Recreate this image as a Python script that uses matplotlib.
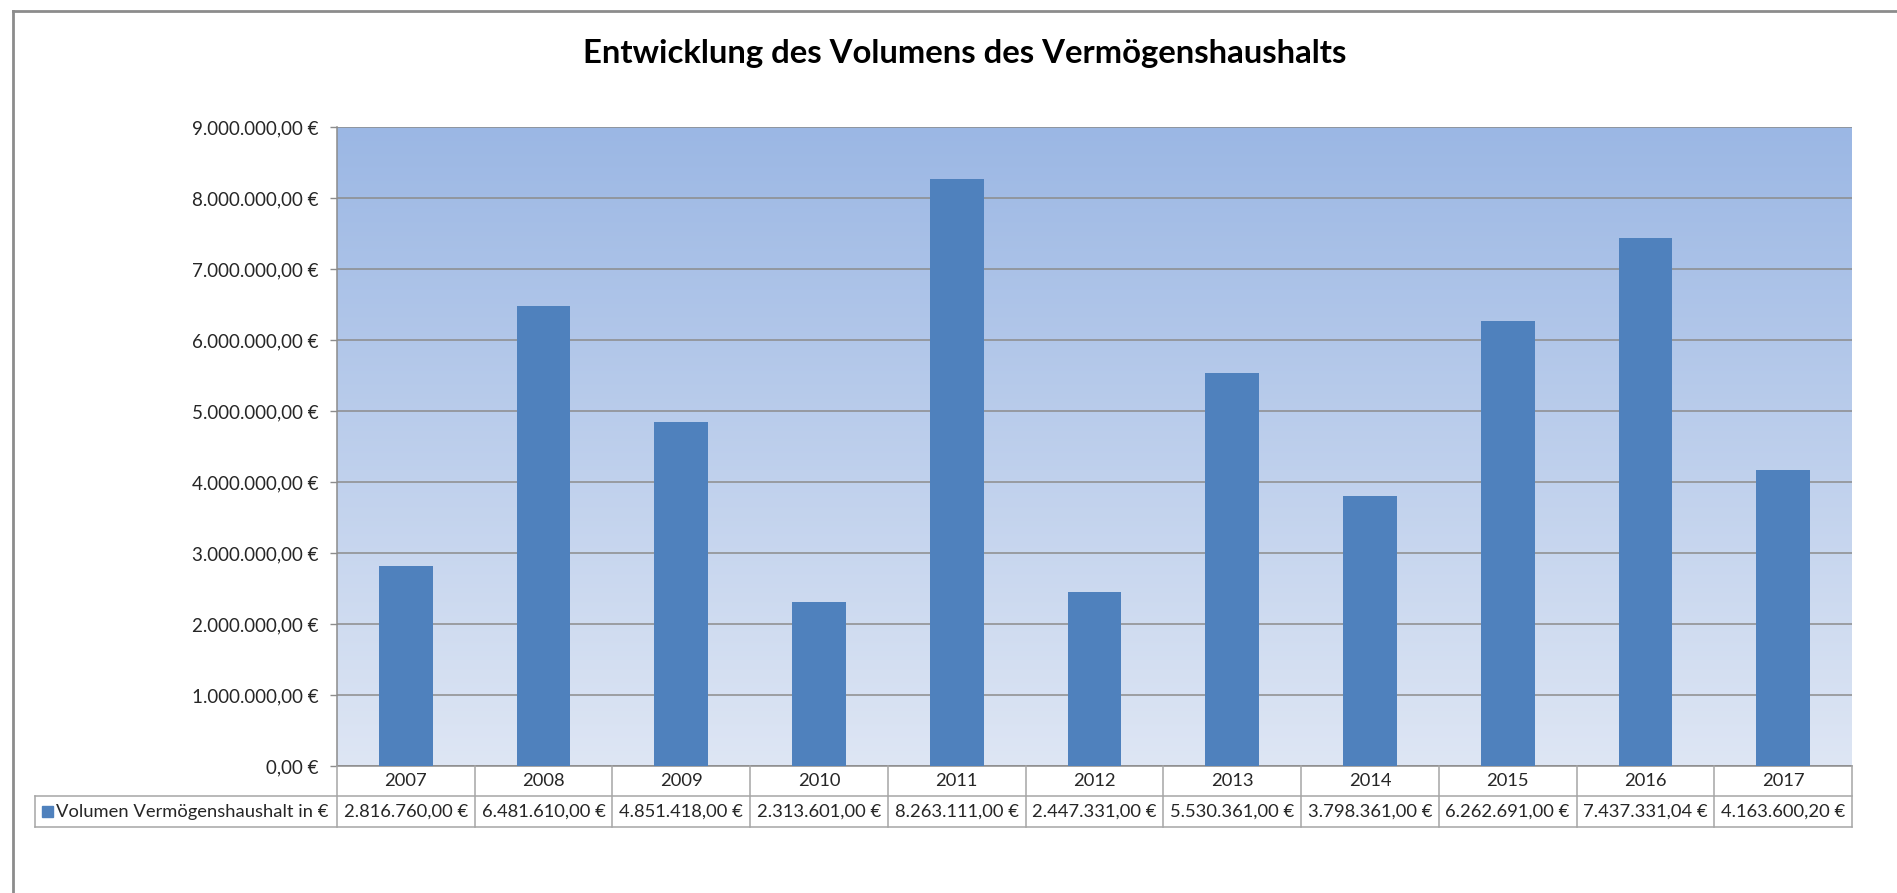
import matplotlib
matplotlib.use("Agg")
import matplotlib.pyplot as plt
import numpy as np
from matplotlib.transforms import blended_transform_factory
from matplotlib.lines import Line2D
from matplotlib.patches import Rectangle

# ---------------- data ----------------
years = ["2007", "2008", "2009", "2010", "2011", "2012", "2013", "2014", "2015", "2016", "2017"]
values = [2816760.00, 6481610.00, 4851418.00, 2313601.00, 8263111.00, 2447331.00,
          5530361.00, 3798361.00, 6262691.00, 7437331.04, 4163600.20]
series_name = "Volumen Vermögenshaushalt in €"
title = "Entwicklung des Volumens des Vermögenshaushalts"
y_ticks = [0, 1000000, 2000000, 3000000, 4000000, 5000000, 6000000, 7000000, 8000000, 9000000]


def fmt_eur(v):
    s = f"{v:,.2f}".replace(",", "X").replace(".", ",").replace("X", ".")
    return s + " €"


FONT = ["Lato", "DejaVu Sans"]
plt.rcParams["font.family"] = FONT
TXT = "#262626"
GRID = "#8c8c8c"
TAB = "#a6a6a6"
BAR = "#4F81BD"
FS = 13.2

W, H = 1897, 893
fig = plt.figure(figsize=(W / 100, H / 100), dpi=100)
L, R, T, B = 337, 1852, 127, 766
ax = fig.add_axes([L / W, 1 - B / H, (R - L) / W, (B - T) / H])

# gradient background
top_c = np.array([155, 183, 228]) / 255
bot_c = np.array([222, 230, 244]) / 255
t = np.linspace(0, 1, 256)[:, None, None]
grad = top_c[None, None, :] * (1 - t) + bot_c[None, None, :] * t
ax.imshow(grad, extent=[0, 1, 0, 1], transform=ax.transAxes, aspect="auto", zorder=0)

x = np.arange(len(years))
ax.bar(x, values, width=0.39, color=BAR, zorder=3)
ax.set_xlim(-0.5, len(years) - 0.5)
ax.set_ylim(0, 9000000)
ax.set_yticks(y_ticks)
ax.set_yticklabels([fmt_eur(v) for v in y_ticks])
ax.set_axisbelow(True)
ax.yaxis.grid(True, color=GRID, lw=1.1, zorder=1)
ax.xaxis.grid(False)
for s in ["top", "right"]:
    ax.spines[s].set_visible(False)
ax.spines["left"].set_color(GRID)
ax.spines["bottom"].set_color(GRID)
ax.spines["left"].set_linewidth(1.1)
ax.spines["bottom"].set_linewidth(1.1)
ax.tick_params(axis="y", length=5, width=1, color=GRID, pad=8, labelsize=13.5, labelcolor=TXT)
ax.tick_params(axis="x", length=0, labelbottom=False)

# ---------------- data table ----------------
ah = B - T
r1 = 30 / ah
r2 = 31 / ah
trans = blended_transform_factory(ax.transData, ax.transAxes)
n = len(years)
label_left_px = 35
xl = -0.5 + (label_left_px - L) / (R - L) * n
xr = n - 0.5

lines = []
for i in range(n + 1):
    lines.append(([i - 0.5, i - 0.5], [0, -(r1 + r2)]))
lines.append(([xl, xr], [-r1, -r1]))
lines.append(([xl, xr], [-(r1 + r2), -(r1 + r2)]))
lines.append(([xl, xl], [-r1, -(r1 + r2)]))
for xs, ys in lines:
    ax.add_line(Line2D(xs, ys, transform=trans, color=TAB, lw=1.1, clip_on=False, zorder=5))

for i, (yr, v) in enumerate(zip(years, values)):
    ax.text(i, -r1 / 2, yr, transform=trans, ha="center", va="center",
            fontsize=FS, color=TXT, clip_on=False)
    ax.text(i, -r1 - r2 / 2, fmt_eur(v), transform=trans, ha="center", va="center",
            fontsize=FS, color=TXT, clip_on=False)

# legend key in table
sq = 11
sq_x = (42 - L) / (R - L)
ax.add_patch(Rectangle((sq_x, -r1 - r2 / 2 - (sq / 2) / ah), sq / (R - L), sq / ah,
                       transform=ax.transAxes, color=BAR, clip_on=False, zorder=6))
ax.text((56 - L) / (R - L), -r1 - r2 / 2, series_name, transform=ax.transAxes,
        ha="left", va="center", fontsize=FS, color=TXT, clip_on=False)

# ---------------- title ----------------
ttl = fig.text(965 / W, 1 - 54 / H, title, ha="center", va="center",
               fontsize=24, fontweight="bold", color="black")
fig.canvas.draw()
wpx = ttl.get_window_extent().width
ttl.set_fontsize(24 * 766 / wpx)

# ---------------- outer frame ----------------
fig.add_artist(Line2D([13 / W, 13 / W], [1 - 11 / H, 0], transform=fig.transFigure,
                      color="#8c8c8c", lw=2))
fig.add_artist(Line2D([13 / W, 1], [1 - 11 / H, 1 - 11 / H], transform=fig.transFigure,
                      color="#8c8c8c", lw=2))

fig.savefig("out.png", dpi=100, facecolor="white")
